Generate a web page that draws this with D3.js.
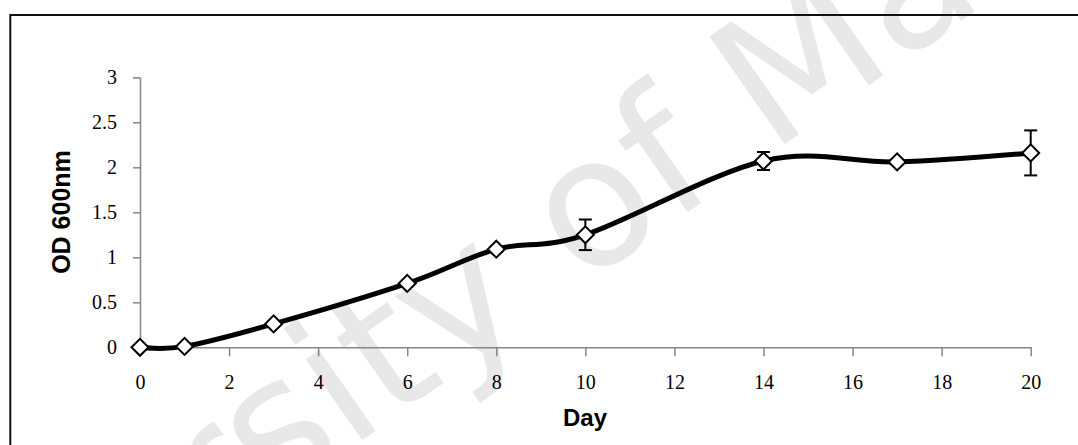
<!DOCTYPE html>
<html>
<head>
<meta charset="utf-8">
<script src="https://cdn.jsdelivr.net/npm/d3@7"></script>
<style>
  html, body { margin: 0; padding: 0; background: #fff; }
  svg { display: block; }
</style>
</head>
<body>
<svg id="chart" width="1078" height="445"></svg>
<script>
// ---- data ----
const days = [0, 1, 3, 6, 8, 10, 14, 17, 20];
const od600 = [0, 0.01, 0.26, 0.71, 1.09, 1.25, 2.07, 2.06, 2.16];
const errors = [0, 0.01, 0.02, 0.03, 0.03, 0.17, 0.10, 0.03, 0.25];
const xTicks = [0, 2, 4, 6, 8, 10, 12, 14, 16, 18, 20];
const yTicks = [0, 0.5, 1, 1.5, 2, 2.5, 3];
const xTitle = "Day";
const yTitle = "OD 600nm";
const watermark = "University of Malaya";

const svg = d3.select("#chart");

// watermark (faint, behind the chart)
svg.append("g")
  .attr("transform", "translate(598,215) rotate(-35)")
  .append("text")
  .attr("x", -1020).attr("y", 49)
  .attr("font-family", "DejaVu Sans, sans-serif")
  .attr("font-size", 180)
  .attr("fill", "#e8e8e8")
  .text(watermark);

// outer border
svg.append("rect")
  .attr("x", 10.3).attr("y", 15)
  .attr("width", 1200).attr("height", 600)
  .attr("fill", "none").attr("stroke", "#111").attr("stroke-width", 2);

const x = d3.scaleLinear().domain([0, 20]).range([140, 1030.7]);
const y = d3.scaleLinear().domain([0, 3]).range([347.3, 77.3]);

const axisColor = "#868686";

// y axis
const gy = svg.append("g").attr("transform", `translate(${x(0)},0)`)
  .call(d3.axisLeft(y).tickValues(yTicks).tickSize(7).tickSizeOuter(0).tickPadding(16)
    .tickFormat(d => String(d)));
gy.selectAll("path, line").attr("stroke", axisColor).attr("stroke-width", 1.5);
gy.selectAll("text").attr("font-family", "Liberation Serif, serif").attr("font-size", 20).attr("fill", "#000");

// x axis
const gx = svg.append("g").attr("transform", `translate(0,${y(0)})`)
  .call(d3.axisBottom(x).tickValues(xTicks).tickSize(9).tickSizeOuter(0)
    .tickFormat(d => String(d)));
gx.selectAll("path, line").attr("stroke", axisColor).attr("stroke-width", 1.5);
gx.selectAll("text").attr("font-family", "Liberation Serif, serif").attr("font-size", 20).attr("fill", "#000")
  .attr("dy", null).attr("y", 42);

// titles
svg.append("text")
  .attr("x", 585).attr("y", 426)
  .attr("text-anchor", "middle")
  .attr("font-family", "Liberation Sans, Arial, sans-serif")
  .attr("font-weight", "bold").attr("font-size", 24)
  .text(xTitle);
svg.append("text")
  .attr("transform", "translate(70,212) rotate(-90)")
  .attr("text-anchor", "middle")
  .attr("font-family", "Liberation Sans, Arial, sans-serif")
  .attr("font-weight", "bold").attr("font-size", 25)
  .text(yTitle);

const pts = days.map((d, i) => ({ d, v: od600[i], e: errors[i] }));

// line
svg.append("path")
  .datum(pts)
  .attr("fill", "none").attr("stroke", "#000").attr("stroke-width", 5)
  .attr("stroke-linejoin", "round")
  .attr("d", d3.line().x(p => x(p.d)).y(p => y(p.v)).curve(d3.curveCardinal.tension(0)));

// error bars
const eb = svg.append("g").attr("stroke", "#000").attr("stroke-width", 2);
pts.forEach(p => {
  eb.append("line").attr("x1", x(p.d)).attr("x2", x(p.d)).attr("y1", y(p.v - p.e)).attr("y2", y(p.v + p.e));
  [p.v - p.e, p.v + p.e].forEach(v => {
    eb.append("line").attr("x1", x(p.d) - 6.5).attr("x2", x(p.d) + 6.5).attr("y1", y(v)).attr("y2", y(v));
  });
});

// markers
svg.append("g").selectAll("path").data(pts).join("path")
  .attr("transform", p => `translate(${x(p.d)},${y(p.v)}) rotate(45)`)
  .attr("d", d3.symbol().type(d3.symbolSquare).size(144))
  .attr("fill", "#fff").attr("stroke", "#000").attr("stroke-width", 2);
</script>
</body>
</html>
